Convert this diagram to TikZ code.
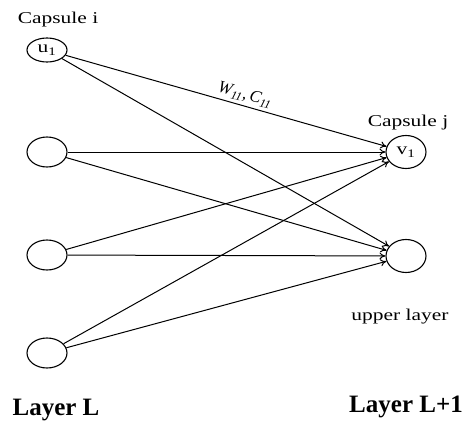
\documentclass[tikz,border=0pt]{standalone}
\usepackage{fontspec}
\setmainfont{Liberation Serif}
\usetikzlibrary{arrows.meta,shapes.geometric}
\newcommand\widetxt[1]{\scalebox{1.3}[1]{#1}}
\tikzset{
	caps/.style={draw, ellipse, line width=1.1pt, minimum width=40pt, minimum height=30pt, inner sep=0pt, font=\fontsize{16.5}{18}\selectfont},
	arr/.style={line width=1pt, -{To[length=6pt,width=7pt]}},
	txt/.style={anchor=base, inner sep=0pt, font=\fontsize{16.5}{18}\selectfont},
	layer/.style={anchor=base, inner sep=0pt, font=\fontsize{25}{28}\selectfont\bfseries}
}
\begin{document}
\begin{tikzpicture}[x=1pt, y=-1pt]
			%%%%% START %%%%%
			\useasboundingbox (0, 0) rectangle (467, 421);
			
			\node[caps, minimum height=24pt] (u1) at (47, 50) {\widetxt{u\textsubscript{1}}};
			\node[caps] (c2) at (47, 152) {};
			\node[caps] (c3) at (47, 255) {};
			\node[caps] (c4) at (47, 353) {};
			
			\node[caps, minimum height=33pt] (v1) at (406, 152) {\widetxt{v\textsubscript{1}}};
			\node[caps, minimum height=33pt] (r2) at (406, 256) {};
			
			\node[txt] (capi) at (58, 23) {\widetxt{Capsule i}};
			\node[txt] (capj) at (408, 126) {\widetxt{Capsule j}};
			\node[txt] (upper) at (400, 320.7) {\widetxt{upper layer}};
			
			\node[layer] (layL) at (56, 415) {Layer L};
			\node[layer] (layL1) at (406, 412) {Layer L+1};
			
			\draw[arr] (u1) -- node[pos=0.55, above, sloped, font=\fontsize{17}{18}\selectfont\itshape] {W\textsubscript{11},\,C\textsubscript{11}} (v1);
			\draw[arr] (u1) -- (r2);
			\draw[arr] (c2) -- (v1);
			\draw[arr] (c2) -- (r2);
			\draw[arr] (c3) -- (v1);
			\draw[arr] (c3) -- (r2);
			\draw[arr] (c4) -- (v1);
			\draw[arr] (c4) -- (r2);
			
			%%%%% END %%%%%
\end{tikzpicture}
\end{document}
